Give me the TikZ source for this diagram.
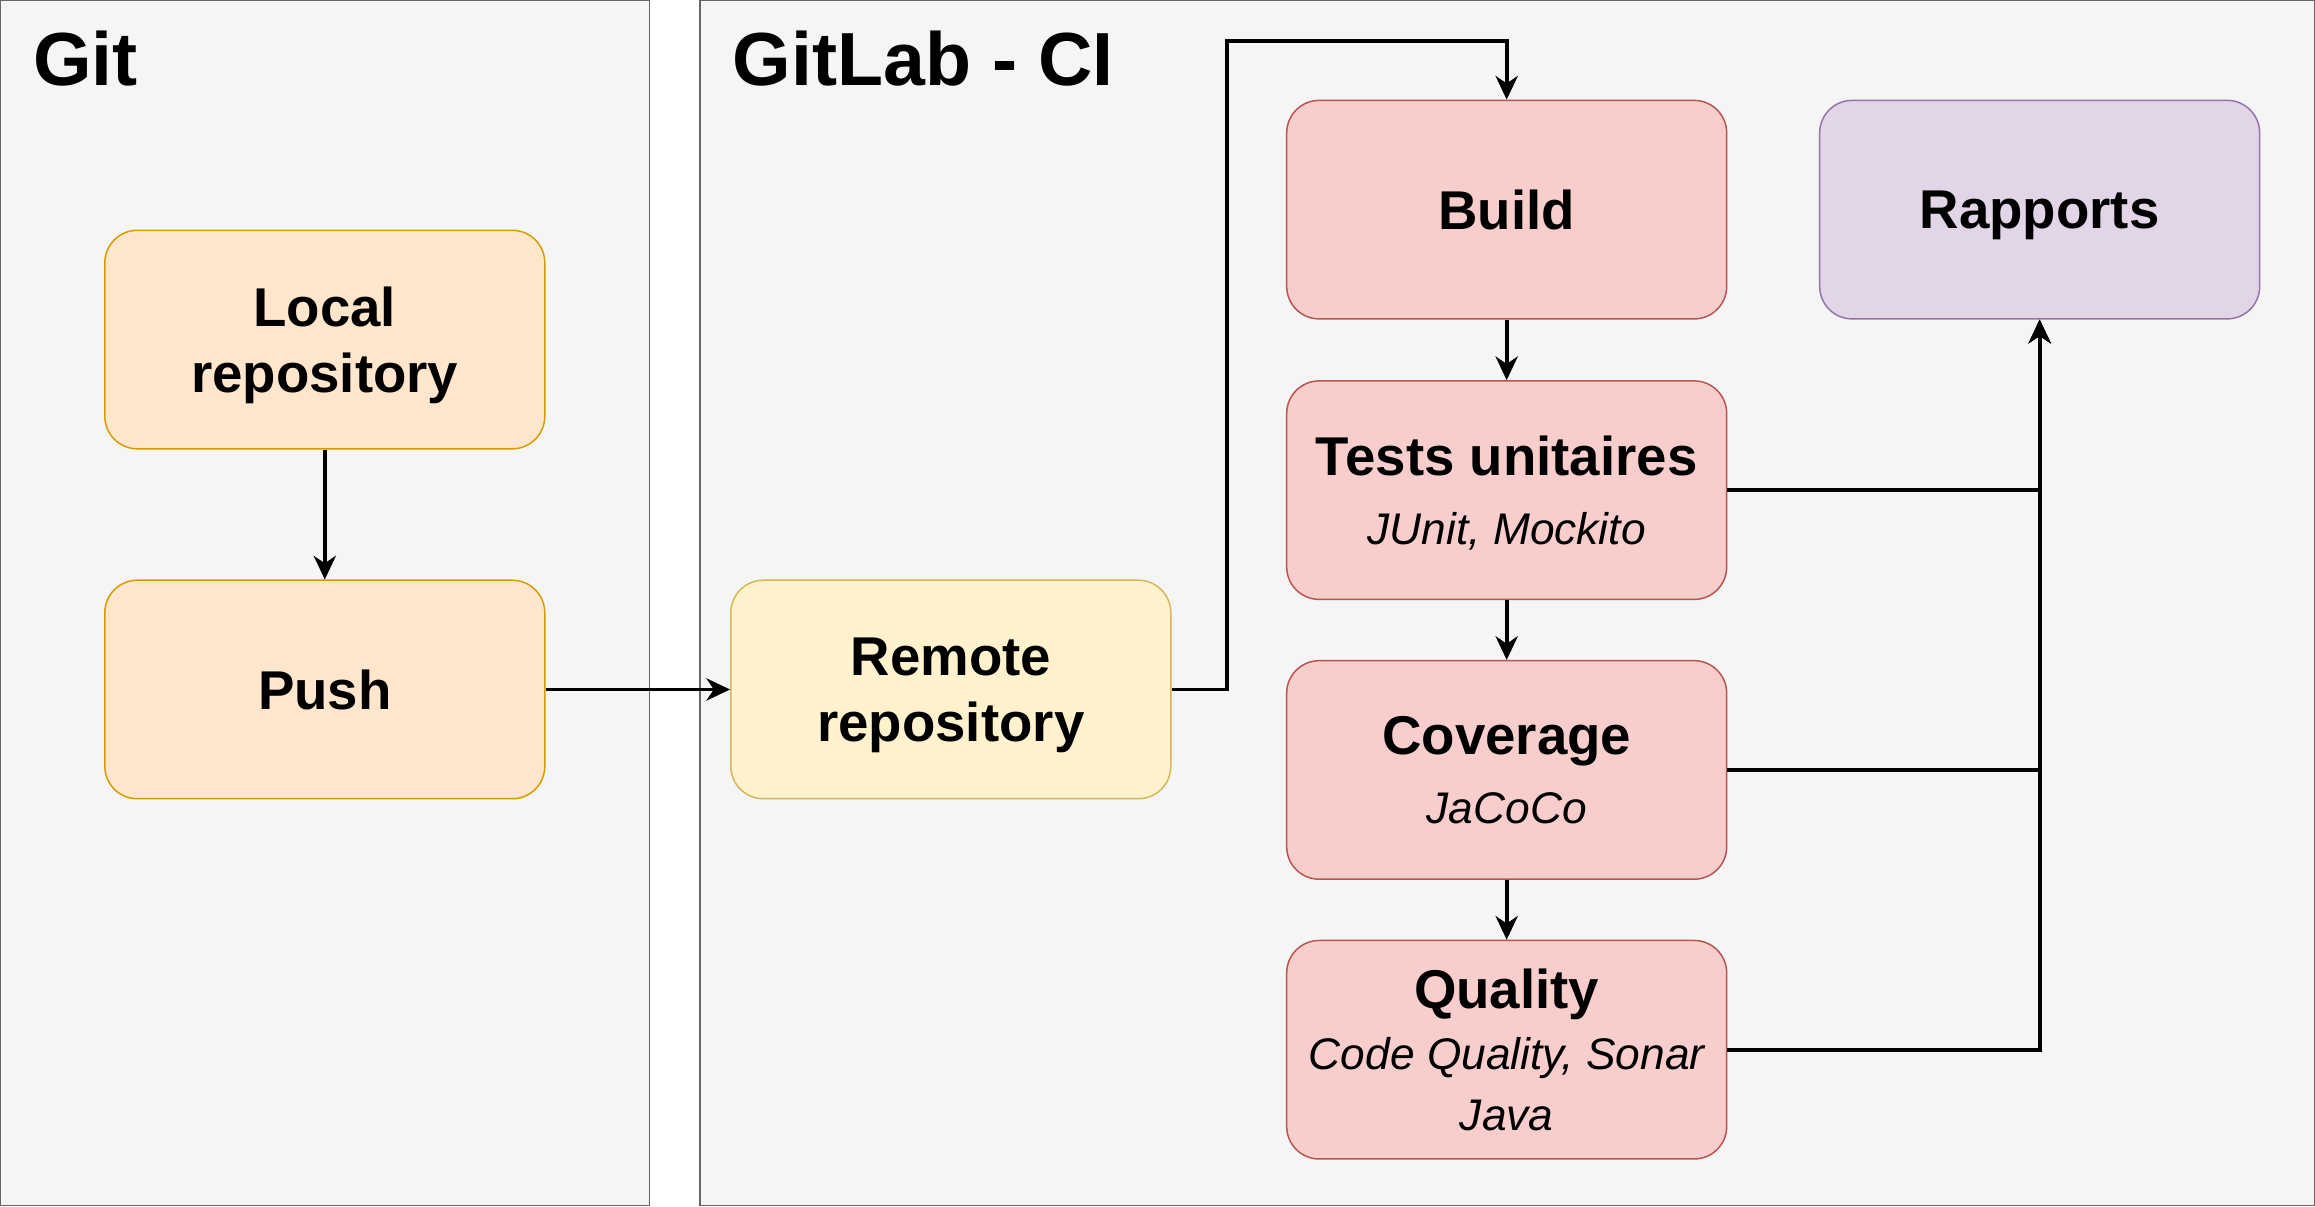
\documentclass[tikz,border=0pt]{standalone}
\usepackage{fontspec}
\setmainfont{Liberation Sans}
\usepackage{tikz}
\usetikzlibrary{arrows.meta,positioning}
\usepackage{xcolor}

\definecolor{panelfill}{HTML}{F5F5F5}
\definecolor{panelline}{HTML}{666666}
\definecolor{gitfill}{HTML}{FFE6CC}
\definecolor{gitline}{HTML}{D79B00}
\definecolor{remotefill}{HTML}{FFF2CC}
\definecolor{remoteline}{HTML}{D6B656}
\definecolor{jobfill}{HTML}{F8CECC}
\definecolor{jobline}{HTML}{B85450}
\definecolor{reportfill}{HTML}{E1D5E7}
\definecolor{reportline}{HTML}{9673A6}

\newcommand{\tooltext}[1]{{\fontsize{15}{22.5}\selectfont\mdseries\itshape #1}}

\tikzset{
    panel/.style={draw=panelline, fill=panelfill, line width=0.5pt},
    title/.style={font=\fontsize{25.5}{30}\selectfont\bfseries, inner sep=0pt},
    stagebox/.style={rounded corners=11pt, minimum width=149pt, minimum height=74pt,
        inner sep=0pt, text depth=0pt, line width=0.5pt, align=center,
        font=\fontsize{18.5}{22.5}\selectfont\bfseries},
    gitbox/.style={stagebox, draw=gitline, fill=gitfill},
    remotebox/.style={stagebox, draw=remoteline, fill=remotefill},
    jobbox/.style={stagebox, draw=jobline, fill=jobfill},
    reportbox/.style={stagebox, draw=reportline, fill=reportfill},
    flow/.style={-{Stealth[length=8pt, width=7.5pt, inset=2.5pt]}, line width=1.3pt}
}

\begin{document}
\begin{tikzpicture}[x=0.5pt, y=-0.5pt]
    \useasboundingbox (0,0) rectangle (1568,817);

    % Panels
    \draw[panel] (0.5,0.5) rectangle (440,816.5);
    \draw[panel] (474,0.5) rectangle (1567.5,816.5);
    \node[title, anchor=base west] (gittitle) at (22,58) {Git};
    \node[title, anchor=base west] (cititle) at (496,58) {GitLab - CI};

    % Git side
    \node[gitbox] (local) at (220,230) {Local\\repository};
    \node[gitbox] (push) at (220,467) {Push};

    % GitLab side
    \node[remotebox] (remote) at (644,467) {Remote\\repository};
    \node[jobbox] (build) at (1020.5,142) {Build};
    \node[jobbox] (tests) at (1020.5,332) {Tests unitaires\\[1pt]\tooltext{JUnit, Mockito}};
    \node[jobbox] (coverage) at (1020.5,521.5) {Coverage\\[1pt]\tooltext{JaCoCo}};
    \node[jobbox] (quality) at (1020.5,711) {Quality\\[-2pt]\tooltext{Code Quality, Sonar}\\[-2pt]\tooltext{Java}};
    \node[reportbox] (rapports) at (1381.5,142) {Rapports};

    % Connectors
    \coordinate (bend) at (831,28);
    \draw[flow] (local) -- (push);
    \draw[flow] (push) -- (remote);
    \draw[flow] (remote.east) -| (bend) -| (build.north);
    \draw[flow] (build) -- (tests);
    \draw[flow] (tests) -- (coverage);
    \draw[flow] (coverage) -- (quality);
    \draw[flow] (tests.east) -| (rapports.south);
    \draw[flow] (coverage.east) -| (rapports.south);
    \draw[flow] (quality.east) -| (rapports.south);
\end{tikzpicture}
\end{document}
